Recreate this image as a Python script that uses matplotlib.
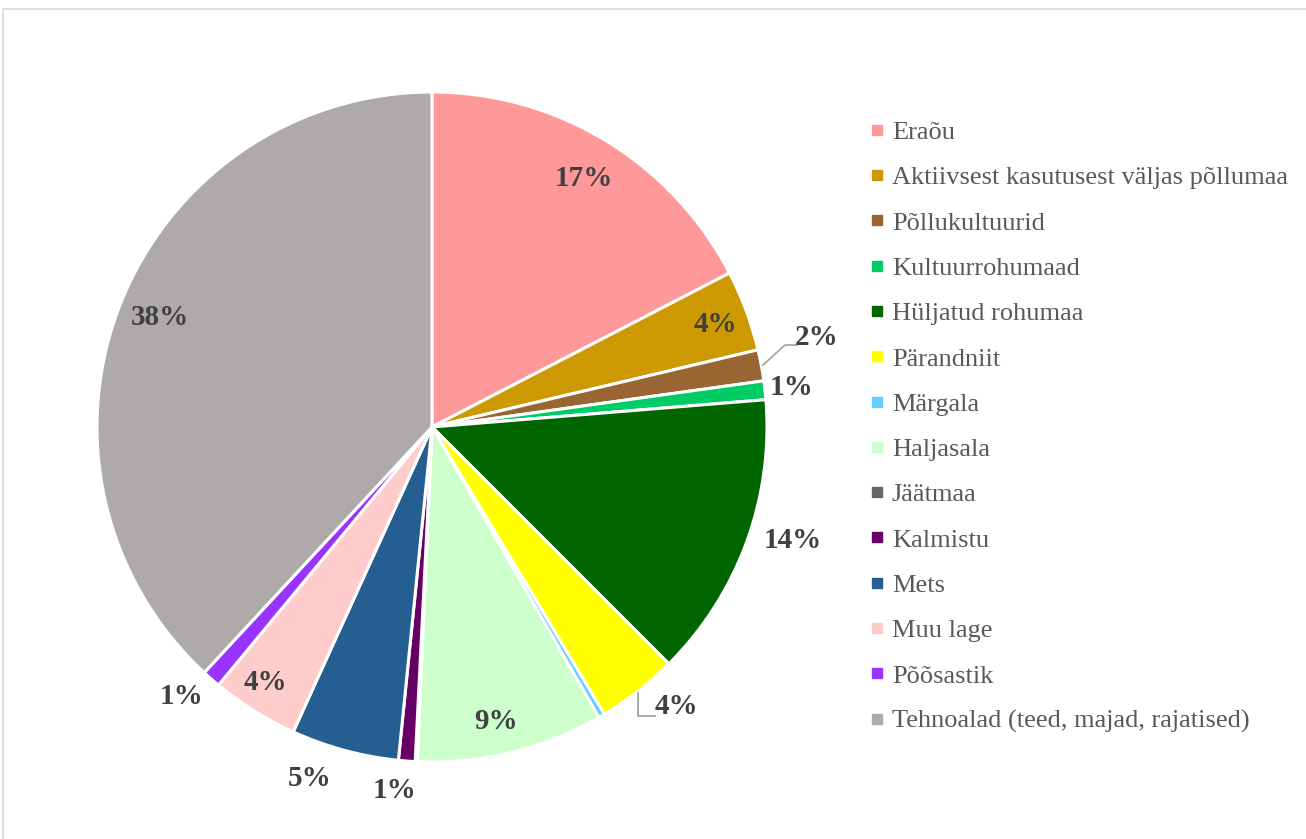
import numpy as np
import matplotlib
matplotlib.use("Agg")
from matplotlib import pyplot as plt
from matplotlib.lines import Line2D
from matplotlib.patches import Rectangle

plt.rcParams["font.family"] = ["Liberation Serif", "DejaVu Serif"]

categories = [
    "Eraõu",
    "Aktiivsest kasutusest väljas põllumaa",
    "Põllukultuurid",
    "Kultuurrohumaad",
    "Hüljatud rohumaa",
    "Pärandniit",
    "Märgala",
    "Haljasala",
    "Jäätmaa",
    "Kalmistu",
    "Mets",
    "Muu lage",
    "Põõsastik",
    "Tehnoalad (teed, majad, rajatised)",
]
shares = [17.4, 3.9, 1.5, 0.9, 13.8, 3.9, 0.3, 9.0, 0.1, 0.8, 5.2, 4.2, 0.9, 38.1]
colors = [
    "#FF9999", "#CC9900", "#996633", "#00CC66", "#006600", "#FFFF00", "#66CCFF",
    "#CCFFCC", "#666666", "#660066", "#255E91", "#FFCCCC", "#9933FF", "#AEAAAA",
]

# label radius (in pie radii) and small angle nudge in degrees, per slice
label_r = [0.87, 0.90, 1.18, 1.08, 1.13, 1.11, 0, 0.90, 0, 1.09, 1.11, 0.91, 1.10, 0.875]
label_nudge = [0, -0.5, 2.5, 0, 2.7, 3.2, 0, -1.5, 0, -1.5, -4.1, -1, -1.7, -0.6]

W, H = 1306, 839
fig = plt.figure(figsize=(W / 100, H / 100), dpi=100)

# thin grey frame around the chart area
fig.patches.append(Rectangle((3 / W, -0.1), 1.2, 1 - 9 / H + 0.1, transform=fig.transFigure,
                             fill=False, edgecolor="#D9D9D9", linewidth=1.2))

R = 335
cx, cy = 432, H - 427
span = 2.6 * R
ax = fig.add_axes([(cx - span / 2) / W, (cy - span / 2) / H, span / W, span / H])

wedges, _ = ax.pie(shares, colors=colors, startangle=90, counterclock=False, radius=1,
                   wedgeprops=dict(edgecolor="white", linewidth=2.2))
ax.set_xlim(-1.3, 1.3)
ax.set_ylim(-1.3, 1.3)
ax.set_aspect("equal")
ax.axis("off")

total = sum(shares)
for i, w in enumerate(wedges):
    pct = shares[i] / total * 100
    if round(pct) < 1:
        continue
    mid = np.deg2rad((w.theta1 + w.theta2) / 2 + label_nudge[i])
    r = label_r[i]
    ax.text(r * np.cos(mid), r * np.sin(mid), f"{pct:.0f}%", ha="center", va="center",
            fontsize=21, fontweight="bold", color="#404040", clip_on=False)

# leader lines for the two labels pulled away from their slices
def to_ax(px, py):
    return (px - cx) / R, ((H - py) - cy) / R

lead = dict(color="#A6A6A6", linewidth=1.3)
p = [to_ax(763, 365), to_ax(785, 345), to_ax(797, 345)]
ax.add_line(Line2D([q[0] for q in p], [q[1] for q in p], **lead))
p = [to_ax(638, 693), to_ax(638, 716), to_ax(655, 716)]
ax.add_line(Line2D([q[0] for q in p], [q[1] for q in p], **lead))

handles = [Line2D([], [], marker="s", linestyle="none", markersize=6.5,
                  markerfacecolor=c, markeredgecolor=c) for c in colors]
fig.legend(handles, categories, loc="upper left", bbox_to_anchor=(859 / W, 1 - 110 / H),
           frameon=False, fontsize=19, labelcolor="#595959", handlelength=0.6,
           handletextpad=0.25, labelspacing=0.827, borderaxespad=0)

fig.savefig("out.png", dpi=100, facecolor="white")
